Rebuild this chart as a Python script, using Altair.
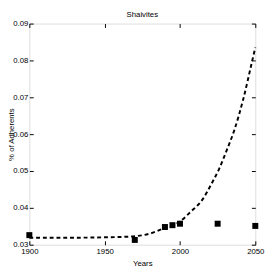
import altair as alt
import pandas as pd

# Observed data (squares)
obs_years = [1900, 1970, 1990, 1995, 2000, 2025, 2050]
obs_values = [0.0326, 0.0313, 0.0348, 0.0353, 0.0357, 0.0357, 0.0351]

# Fitted curve (dashed)
fit_years = [1900, 1925, 1950, 1960, 1970, 1980, 1990, 2000, 2007, 2015,
             2021, 2026, 2031, 2036, 2042, 2048, 2050]
fit_values = [0.0319, 0.0319, 0.0320, 0.0321, 0.0323, 0.0330, 0.0346, 0.0363,
              0.0389, 0.0423, 0.0466, 0.0506, 0.0556, 0.0610, 0.0695, 0.0800,
              0.0835]

x_ticks = [1900, 1950, 2000, 2050]
y_ticks = [0.03, 0.04, 0.05, 0.06, 0.07, 0.08, 0.09]

chart_title = ["Shaivites"]

FONT = "Liberation Sans, Arial, Helvetica, sans-serif"
FS = 8
W, H = 233, 228

obs = pd.DataFrame({"year": obs_years, "value": obs_values})
fit = pd.DataFrame({"year": fit_years, "value": fit_values})
ttl = pd.DataFrame({"label": chart_title})

xscale = alt.Scale(domain=[1900, 2050], nice=False, zero=False)
yscale = alt.Scale(domain=[0.03, 0.09], nice=False, zero=False)

inside = alt.ExprRef(expr="-4")

points = alt.Chart(obs).mark_square(size=38, color="black", opacity=1).encode(
    x=alt.X("year:Q", scale=xscale,
            axis=alt.Axis(orient="bottom", values=x_ticks, format="d", title="Years",
                          domain=False, grid=False, tickSize=inside, tickColor="black",
                          labelPadding=7, labelFontSize=FS, labelFont=FONT,
                          labelColor="black", titleFont=FONT, titleFontSize=FS,
                          titleFontWeight="normal", titleColor="black",
                          titleY=19, titleBaseline="middle", labelFlush=False)),
    y=alt.Y("value:Q", scale=yscale,
            axis=alt.Axis(orient="left", values=y_ticks, format=".2f",
                          title="% of Adherents",
                          domain=False, grid=False, tickSize=inside, tickColor="black",
                          labelPadding=5.5, labelFontSize=FS, labelFont=FONT,
                          labelColor="black", titleFont=FONT, titleFontSize=FS,
                          titleFontWeight="normal", titleColor="black",
                          titleX=-16.5, titleY=H / 2, titleBaseline="alphabetic",
                          titleAlign="center", titleAngle=270, labelFlush=False)),
)

line = alt.Chart(fit).mark_line(color="black", strokeWidth=2, strokeDash=[4, 3],
                                interpolate="monotone").encode(
    x=alt.X("year:Q", scale=xscale,
            axis=alt.Axis(orient="top", values=x_ticks, labels=False, title=None,
                          domain=False, grid=False, tickSize=inside, tickColor="black")),
    y=alt.Y("value:Q", scale=yscale,
            axis=alt.Axis(orient="right", values=y_ticks, labels=False, title=None,
                          domain=False, grid=False, tickSize=inside, tickColor="black")),
)

title_text = alt.Chart(ttl).mark_text(font=FONT, fontSize=FS, color="black",
                                      baseline="alphabetic", align="center").encode(
    text="label:N",
    x=alt.value(W / 2),
    y=alt.value(-7),
)

chart = alt.layer(line, points, title_text).resolve_axis(
    x="independent", y="independent"
).properties(
    width=W, height=H,
    autosize=alt.AutoSizeParams(type="none"),
    padding={"left": 22, "top": 12, "right": 10, "bottom": 22},
).configure_view(stroke="black", strokeWidth=1).configure(background="white")

chart.save("out.html", embed_options={"renderer": "svg", "actions": False})
